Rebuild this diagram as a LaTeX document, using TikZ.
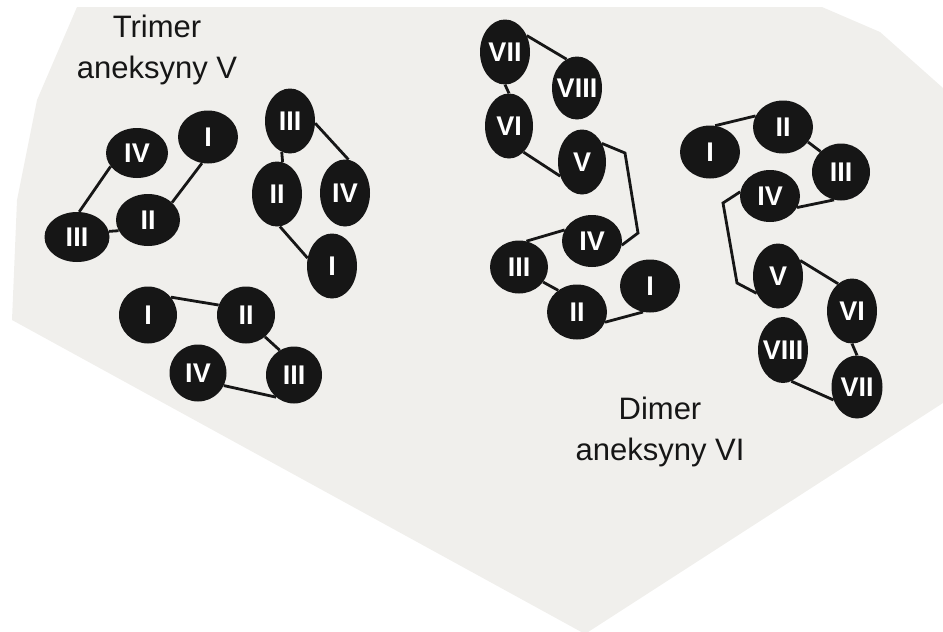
\documentclass[tikz,border=0pt]{standalone}
\usepackage{fontspec}
\setmainfont{Liberation Sans}
\usepackage{tikz}
\usetikzlibrary{shapes.geometric}
\definecolor{paper}{RGB}{240,239,236}
\definecolor{blob}{RGB}{22,22,22}
\newcommand{\romlab}[1]{\makebox[0pt]{#1}}
\tikzstyle{dom} = [ellipse, fill=blob, text=white, inner sep=0pt, font=\bfseries\fontsize{27}{27}\selectfont]
\tikzstyle{flat} = [dom, minimum width=60pt, minimum height=53pt]
\tikzstyle{tall} = [dom, minimum width=50pt, minimum height=65pt]
\tikzstyle{link} = [line width=2.8pt, color=blob]
\tikzstyle{title} = [align=center, text=blob, font=\fontsize{31}{41}\selectfont]

\begin{document}
\begin{tikzpicture}[x=1pt, y=-1pt]
			\useasboundingbox (0,0) rectangle (943,632);
			\fill[paper] (77,7) -- (822,7) -- (880,32) -- (943,88) -- (943,403) -- (585,634) -- (12,320) -- (17,200) -- (37,100) -- cycle;
			\node[title] (trimer) at (157,50) {Trimer\\aneksyny V};
			\node[title] (dimer) at (660,432) {Dimer\\aneksyny VI};
			% trimer, first group
			\node[flat, minimum width=62pt, minimum height=50pt] (a4) at (137,153) {\romlab{IV}};
			\node[flat] (a1) at (208,137) {\romlab{I}};
			\node[flat, minimum width=65pt, minimum height=50pt] (a3) at (77,237) {\romlab{III}};
			\node[flat, minimum width=64pt, minimum height=52pt] (a2) at (148,220) {\romlab{II}};
			\draw [link](a4.207) -- (a3.85);
			\draw [link](a1.257) -- (a2.36);
			\draw [link](a3.10) -- (a2.200);
			% trimer, second group
			\node[tall] (b3) at (290,121) {\romlab{III}};
			\node[tall] (b2) at (277,194) {\romlab{II}};
			\node[tall, minimum height=67pt] (b4) at (345,193) {\romlab{IV}};
			\node[tall] (b1) at (332,266) {\romlab{I}};
			\draw [link](b3.255) -- (b2.80);
			\draw [link](b3.355) -- (b4.84);
			\draw [link](b2.275) -- (b1.162);
			% trimer, third group
			\node[flat, minimum width=58pt, minimum height=57pt] (c1) at (148,315) {\romlab{I}};
			\node[flat, minimum width=58pt, minimum height=57pt] (c2) at (246,315) {\romlab{II}};
			\node[flat, minimum width=57pt, minimum height=57pt] (c4) at (198,373) {\romlab{IV}};
			\node[flat, minimum width=56pt, minimum height=57pt] (c3) at (294,375) {\romlab{III}};
			\draw [link](c1.38) -- (c2.160);
			\draw [link](c2.311) -- (c3.120);
			\draw [link](c4.334) -- (c3.231);
			% dimer, left chain
			\node[tall] (d7) at (505,52) {\romlab{VII}};
			\node[tall, minimum height=63pt] (d8) at (577,88) {\romlab{VIII}};
			\node[tall, minimum width=48pt] (d6) at (509,126) {\romlab{VI}};
			\node[tall, minimum width=48pt] (d5) at (582,162) {\romlab{V}};
			\node[flat, minimum height=52pt] (d4) at (592,241) {\romlab{IV}};
			\node[flat, minimum width=58pt] (d3) at (519,267) {\romlab{III}};
			\node[flat, minimum height=55pt] (d2) at (577,312) {\romlab{II}};
			\node[flat] (d1) at (650,286) {\romlab{I}};
			\coordinate (dbend1) at (625,153);
			\coordinate (dbend2) at (638,233);
			\draw [link](d7.37) -- (d8.110);
			\draw [link](d7.south) -- (d6.north);
			\draw [link](d6.299) -- (d5.213);
			\draw [link](d5.43) -- (dbend1) -- (dbend2) -- (d4.352);
			\draw [link](d4.158) -- (d3.74);
			\draw [link](d3.328) -- (d2.131);
			\draw [link](d2.340) -- (d1.255);
			% dimer, right chain
			\node[flat] (e1) at (710,152) {\romlab{I}};
			\node[flat] (e2) at (783,127) {\romlab{II}};
			\node[flat, minimum width=58pt, minimum height=57pt] (e3) at (841,172) {\romlab{III}};
			\node[flat, minimum height=52pt] (e4) at (770,196) {\romlab{IV}};
			\node[tall] (e5) at (778,276) {\romlab{V}};
			\node[tall] (e6) at (852,311) {\romlab{VI}};
			\node[tall, minimum height=66pt] (e8) at (783,350) {\romlab{VIII}};
			\node[tall, minimum width=51pt, minimum height=63pt] (e7) at (857,387) {\romlab{VII}};
			\coordinate (ebend1) at (723,203);
			\coordinate (ebend2) at (737,283);
			\draw [link](e1.79) -- (e2.158);
			\draw [link](e2.329) -- (e3.135);
			\draw [link](e3.256) -- (e4.337);
			\draw [link](e4.172) -- (ebend1) -- (ebend2) -- (e5.219);
			\draw [link](e5.35) -- (e6.117);
			\draw [link](e6.south) -- (e7.north);
			\draw [link](e8.285) -- (e7.209);
		\end{tikzpicture}
\end{document}
